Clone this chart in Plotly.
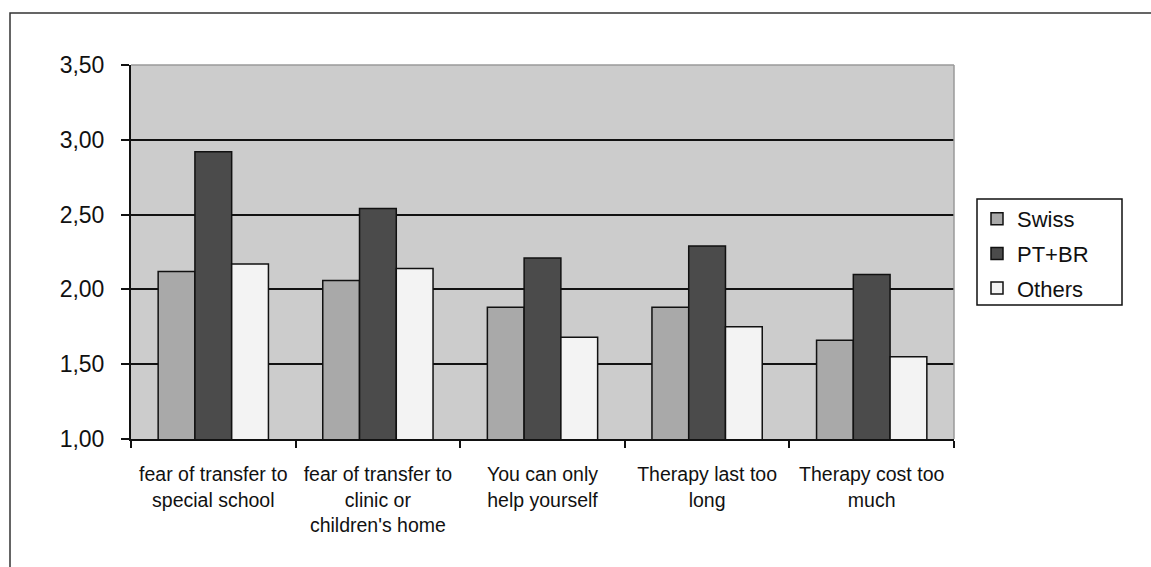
import plotly.graph_objects as go

categories = [
    "fear of transfer to<br>special school",
    "fear of transfer to<br>clinic or<br>children's home",
    "You can only<br>help yourself",
    "Therapy last too<br>long",
    "Therapy cost too<br>much",
]
swiss = [2.12, 2.06, 1.88, 1.88, 1.66]
pt_br = [2.92, 2.54, 2.21, 2.29, 2.10]
others = [2.17, 2.14, 1.68, 1.75, 1.55]

series_names = ["Swiss", "PT+BR", "Others"]
series_values = [swiss, pt_br, others]
series_colors = ["#a9a9a9", "#4b4b4b", "#f3f3f3"]

y_ticks = [1.00, 1.50, 2.00, 2.50, 3.00, 3.50]

W, H = 1151, 567
ML, MR, MT, MB = 131, 197, 65, 128
PW, PH = W - ML - MR, H - MT - MB

fig = go.Figure()
for i, (name, vals, col) in enumerate(zip(series_names, series_values, series_colors)):
    fig.add_trace(go.Bar(
        x=categories, y=vals, name=name,
        marker=dict(color=col, line=dict(color="#111111", width=1.5)),
        legendgroup=f"g{i}",
    ))

def px_x(p):
    return (p - ML) / PW

def px_y(p):
    return 1 - (p - MT) / PH

fig.update_layout(
    width=W, height=H,
    margin=dict(l=ML, r=MR, t=MT, b=MB, autoexpand=False),
    paper_bgcolor="white",
    plot_bgcolor="#cccccc",
    separators=",.",
    barmode="group",
    bargap=0.33,
    bargroupgap=0,
    font=dict(family="Liberation Sans, Arial, sans-serif", color="#111111"),
    showlegend=True,
    legend=dict(
        x=px_x(977), y=px_y(198), xanchor="left", yanchor="top",
        borderwidth=0, bgcolor="rgba(0,0,0,0)",
        font=dict(size=22), tracegroupgap=3,
        itemwidth=30,
    ),
    xaxis=dict(
        showline=True, linecolor="#111111", linewidth=2,
        ticks="outside", tickson="boundaries", ticklen=7, tickwidth=2, tickcolor="#111111",
        tickfont=dict(size=19.5), ticklabelstandoff=17, showgrid=False,
        mirror=False,
    ),
    yaxis=dict(
        range=[1.0, 3.5], tickvals=y_ticks, tickformat=".2f",
        showline=True, linecolor="#111111", linewidth=2,
        ticks="outside", ticklen=8, tickwidth=2, tickcolor="#111111",
        tickfont=dict(size=23), ticklabelstandoff=12,
        showgrid=True, gridcolor="#111111", gridwidth=2,
        zeroline=False,
    ),
    shapes=[
        # grey frame on top and right of plot area
        dict(type="line", xref="paper", yref="paper", x0=0, x1=1, y0=1, y1=1,
             line=dict(color="#9a9a9a", width=1.5)),
        dict(type="line", xref="paper", yref="paper", x0=1, x1=1, y0=0, y1=1,
             line=dict(color="#9a9a9a", width=1.5)),
        # outer frame around the chart
        dict(type="rect", xref="paper", yref="paper",
             x0=px_x(10), x1=px_x(1170), y0=px_y(590), y1=px_y(13),
             line=dict(color="#333333", width=1.5), layer="below"),
        # legend box
        dict(type="rect", xref="paper", yref="paper",
             x0=px_x(977), x1=px_x(1122), y0=px_y(305), y1=px_y(199),
             line=dict(color="#111111", width=1.5), fillcolor="white", layer="below"),
    ],
)

fig.write_html("out.html")
